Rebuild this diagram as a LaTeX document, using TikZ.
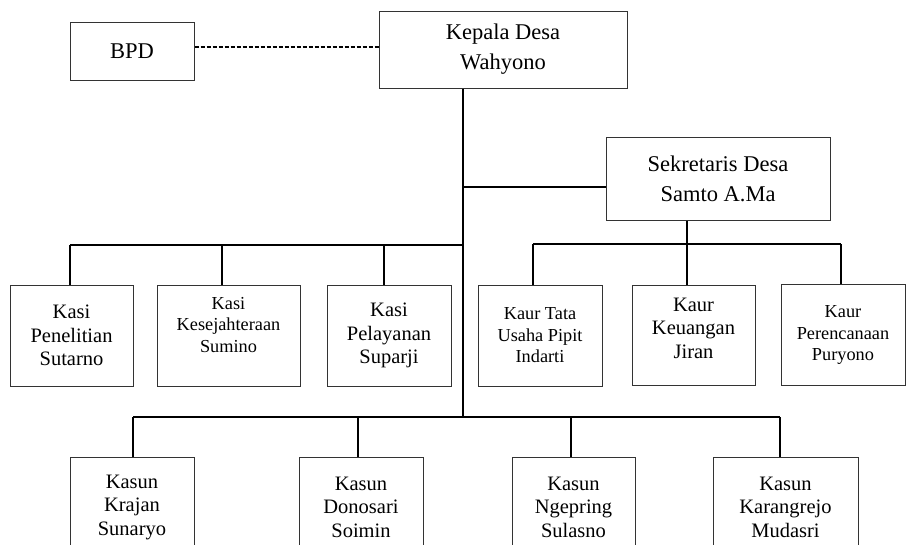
\documentclass[tikz,border=0pt]{standalone}
\usepackage{fontspec}
\setmainfont{Liberation Serif}
\usetikzlibrary{positioning}
\usetikzlibrary{calc}
\tikzset{
  kotak/.style={
    rectangle, draw=black!80, line width=1pt, fill=white,
    align=center, inner sep=2pt, font=\fontsize{20.5}{23.5}\selectfont
  },
  kotakatas/.style={kotak, font=\fontsize{22.5}{30}\selectfont},
  kotakkecil/.style={kotak, font=\fontsize{18.3}{21.5}\selectfont},
  garis/.style={line width=2pt, draw=black},
  garisputus/.style={line width=2pt, draw=black, dash pattern=on 4pt off 2pt}
}

\begin{document}
\begin{tikzpicture}[x={(1pt,0pt)}, y={(0pt,-1pt)}]
  \clip (0,0) rectangle (907,544);

  % pimpinan
  \node[kotakatas, minimum width=124pt, minimum height=58pt] (bpd) at (132,51) {BPD};
  \node[kotakatas, minimum width=248pt, minimum height=77pt] (kades) at (503,49.5) {Kepala Desa\\Wahyono};
  \node[kotakatas, minimum width=224pt, minimum height=83pt] (sekdes) at (718,178.5) {Sekretaris Desa\\Samto A.Ma};

  % kasi
  \node[kotak, minimum width=123pt, minimum height=101pt] (kasiPen) at (71.5,335.5) {Kasi\\Penelitian\\Sutarno};
  \node[kotakkecil, minimum width=143pt, minimum height=101pt, text depth=22pt] (kasiKes) at (228.5,335.5) {Kasi\\Kesejahteraan\\Sumino};
  \node[kotak, minimum width=124pt, minimum height=101pt] (kasiPel) at (389,335.5) {Kasi\\Pelayanan\\Suparji};

  % kaur
  \node[kotakkecil, minimum width=124pt, minimum height=101pt] (kaurTu) at (540,335.5) {Kaur Tata\\Usaha Pipit\\Indarti};
  \node[kotak, minimum width=123pt, minimum height=100pt, text depth=14pt] (kaurKeu) at (693.5,335) {Kaur\\Keuangan\\Jiran};
  \node[kotakkecil, minimum width=124pt, minimum height=101pt] (kaurPer) at (843,335) {Kaur\\Perencanaan\\Puryono};

  % kasun
  \node[kotak, minimum width=124pt, minimum height=100pt] (kasunKra) at (132,507) {Kasun\\Krajan\\Sunaryo};
  \node[kotak, minimum width=124pt, minimum height=100pt] (kasunDon) at (361,507) {Kasun\\Donosari\\Soimin};
  \node[kotak, minimum width=123pt, minimum height=100pt] (kasunNge) at (573.5,507) {Kasun\\Ngepring\\Sulasno};
  \node[kotak, minimum width=145pt, minimum height=100pt] (kasunKar) at (785.5,507) {Kasun\\Karangrejo\\Mudasri};

  % titik cabang
  \coordinate (batang) at (463,417);
  \coordinate (busKiri) at (70,245);
  \coordinate (busKanan) at (533,244);
  \coordinate (busKananUjung) at (841,244);
  \coordinate (busBawah) at (133,417);
  \coordinate (busBawahUjung) at (780,417);

  \draw[garisputus] ([yshift=4pt]bpd.east) -- ([yshift=4pt]bpd.east -| kades.west);
  \draw[garis] (kades.south -| batang) -- (batang);
  \draw[garis] ([yshift=-8.5pt]sekdes.west) -- ([yshift=-8.5pt]sekdes.west -| batang);

  \draw[garis] (busKiri) -- (busKiri -| batang);
  \draw[garis] (busKiri) -- (busKiri |- kasiPen.north);
  \draw[garis] (222,245) -- (222,245 |- kasiKes.north);
  \draw[garis] (384,245) -- (384,245 |- kasiPel.north);

  \draw[garis] (sekdes.south -| 687,0) -- (687,244);
  \draw[garis] (busKanan) -- (busKananUjung);
  \draw[garis] (busKanan) -- (busKanan |- kaurTu.north);
  \draw[garis] (687,244) -- (687,244 |- kaurKeu.north);
  \draw[garis] (busKananUjung) -- (busKananUjung |- kaurPer.north);

  \draw[garis] (busBawah) -- (busBawahUjung);
  \draw[garis] (busBawah) -- (busBawah |- kasunKra.north);
  \draw[garis] (358,417) -- (358,417 |- kasunDon.north);
  \draw[garis] (571,417) -- (571,417 |- kasunNge.north);
  \draw[garis] (busBawahUjung) -- (busBawahUjung |- kasunKar.north);
\end{tikzpicture}
\end{document}
